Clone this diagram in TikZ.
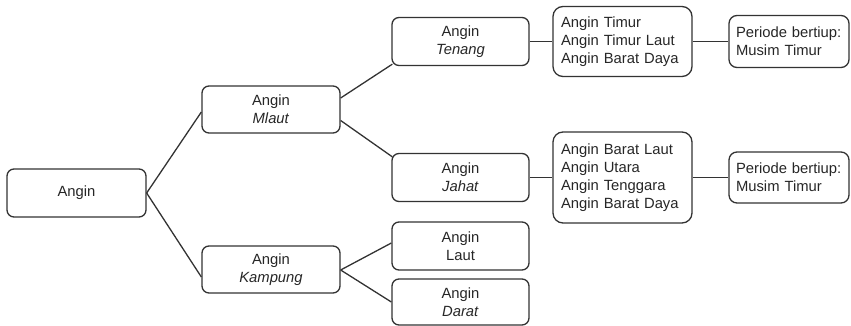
\documentclass[tikz,border=0pt]{standalone}
\usepackage{fontspec}
\setmainfont{Liberation Sans}
\usetikzlibrary{calc}
\begin{document}
\begin{tikzpicture}[x=1pt,y=-1pt,
  box/.style={draw=black!80, line width=1.3pt, rounded corners=7pt, inner sep=0pt,
    align=center, text=black!85, font=\fontsize{14.8}{18}\selectfont,
    minimum width=#1},
  box/.default=138pt,
  lbox/.style={box=#1, align=left, rounded corners=10pt},
  con/.style={draw=black!80, line width=1.3pt}]
\useasboundingbox (0,0) rectangle (851,326);
\node[box=139pt, minimum height=48pt] (root) at (76.5,193) {Angin};
\node[box, minimum height=47pt] (mlaut) at (271,109.5) {Angin\\\textit{Mlaut}};
\node[box, minimum height=47pt] (kampung) at (271,269.5) {Angin\\\textit{Kampung}};
\node[box=137pt, minimum height=48pt] (tenang) at (460.5,41.5) {Angin\\\textit{Tenang}};
\node[box=137pt, minimum height=48pt] (jahat) at (460.5,177.5) {Angin\\\textit{Jahat}};
\node[box=137pt, minimum height=48pt] (laut) at (460.5,246) {Angin\\Laut};
\node[box=137pt, minimum height=46pt] (darat) at (460.5,302) {Angin\\\textit{Darat}};
\node[lbox=139pt, minimum height=70pt, text width=123pt] (list1) at (622.5,41.5) {Angin Timur\\Angin Timur Laut\\Angin Barat Daya};
\node[lbox=139pt, minimum height=91pt, text width=123pt] (list2) at (622.5,177.5) {Angin Barat Laut\\Angin Utara\\Angin Tenggara\\Angin Barat Daya};
\node[lbox=120pt, minimum height=52pt, rounded corners=8pt, text width=106pt] (per1) at (789,41.5) {Periode bertiup:\\Musim Timur};
\node[lbox=120pt, minimum height=51pt, rounded corners=8pt, text width=106pt] (per2) at (789,177.5) {Periode bertiup:\\Musim Timur};
\draw[con] (root.east) -- ($(mlaut.west)+(0,2.5)$);
\draw[con] (root.east) -- ($(kampung.west)+(0,7.5)$);
\draw[con] ($(mlaut.east)+(0,-11.5)$) -- ($(tenang.south west)+(1,-2)$);
\draw[con] ($(mlaut.east)+(0,11)$) -- ($(jahat.north west)+(1,4)$);
\draw[con] ($(kampung.east)+(0,0.5)$) -- ($(laut.west)+(0,-3)$);
\draw[con] ($(kampung.east)+(0,0.5)$) -- (darat.west);
\draw[con] (tenang.east) -- (list1.west);
\draw[con] (jahat.east) -- (list2.west);
\draw[con] (list1.east) -- (per1.west);
\draw[con] (list2.east) -- (per2.west);
\end{tikzpicture}
\end{document}
